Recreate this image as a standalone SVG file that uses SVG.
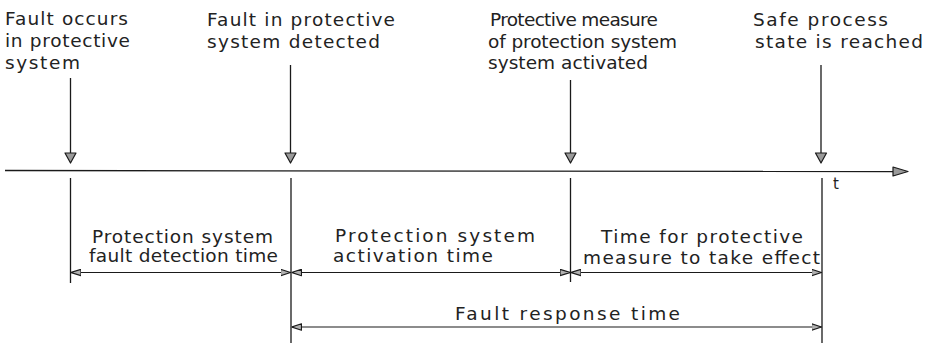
<svg xmlns="http://www.w3.org/2000/svg" width="935" height="343" viewBox="0 0 935 343">
<style>
  text { font-family: "DejaVu Sans", "Liberation Sans", sans-serif; font-size: 18.5px; fill: #222222; }
  .ln { stroke: #1a1a1a; stroke-width: 1.3; fill: none; }
  .tri { fill: #9a9a9a; stroke: #1a1a1a; stroke-width: 1.2; stroke-linejoin: round; }
  .dim { stroke: #1a1a1a; stroke-width: 1.1; fill: none; marker-start: url(#dimArrow); marker-end: url(#dimArrow); }
</style>
<defs>
  <marker id="dimArrow" viewBox="0 0 10 8" refX="10" refY="4" markerWidth="10" markerHeight="8" markerUnits="userSpaceOnUse" orient="auto-start-reverse">
    <path d="M0,0.8 L10,4 L0,7.2 Z" fill="#b0b0b0" stroke="#1a1a1a" stroke-width="1.2" stroke-linejoin="round"/>
  </marker>
</defs>
<rect width="935" height="343" fill="#ffffff"/>

<g id="connectors">
  <!-- time axis -->
  <line class="ln" x1="5" y1="170.5" x2="893" y2="171.5"/>
  <polygon class="tri" points="893,167 908,171.5 893,176"/>
  <!-- event arrows from labels -->
  <line class="ln" x1="70.5" y1="78" x2="70.5" y2="153"/>
  <line class="ln" x1="290.5" y1="65" x2="290.5" y2="153"/>
  <line class="ln" x1="570.5" y1="80" x2="570.5" y2="153"/>
  <line class="ln" x1="821" y1="65" x2="821" y2="153"/>
  <polygon class="tri" points="65,153 76,153 70.5,163"/>
  <polygon class="tri" points="285,153 296,153 290.5,163"/>
  <polygon class="tri" points="565,153 576,153 570.5,163"/>
  <polygon class="tri" points="815.5,153 826.5,153 821,163"/>
  <!-- extension lines below the axis -->
  <line class="ln" x1="70.5" y1="178" x2="70.5" y2="283"/>
  <line class="ln" x1="291" y1="178" x2="291" y2="343"/>
  <line class="ln" x1="570.5" y1="178" x2="570.5" y2="282"/>
  <line class="ln" x1="822" y1="178" x2="822" y2="343"/>
  <!-- dimension lines -->
  <line class="dim" x1="71" y1="272.5" x2="290.5" y2="272.5"/>
  <line class="dim" x1="291.5" y1="272.5" x2="570" y2="272.5"/>
  <line class="dim" x1="571" y1="272.5" x2="821.5" y2="272.5"/>
  <line class="dim" x1="291.5" y1="327" x2="821.5" y2="327"/>
</g>

<g id="event-fault-occurs">
  <text x="5" y="25" textLength="123" lengthAdjust="spacing">Fault occurs</text>
  <text x="5" y="47" textLength="125" lengthAdjust="spacing">in protective</text>
  <text x="5" y="69" textLength="75" lengthAdjust="spacing">system</text>
</g>
<g id="event-fault-detected">
  <text x="207" y="26" textLength="188" lengthAdjust="spacing">Fault in protective</text>
  <text x="207" y="48" textLength="173" lengthAdjust="spacing">system detected</text>
</g>
<g id="event-measure-activated">
  <text x="490" y="26" textLength="168" lengthAdjust="spacing">Protective measure</text>
  <text x="488" y="48" textLength="189" lengthAdjust="spacing">of protection system</text>
  <text x="488" y="69" textLength="160" lengthAdjust="spacing">system activated</text>
</g>
<g id="event-safe-state">
  <text x="753" y="26" textLength="135" lengthAdjust="spacing">Safe process</text>
  <text x="755" y="48" textLength="168" lengthAdjust="spacing">state is reached</text>
</g>
<g id="axis-label">
  <text x="833" y="189" style="font-size:15px">t</text>
</g>

<g id="span-detection-time">
  <text x="92" y="243" textLength="181" lengthAdjust="spacing">Protection system</text>
  <text x="89" y="262" textLength="189" lengthAdjust="spacing">fault detection time</text>
</g>
<g id="span-activation-time">
  <text x="335" y="242" textLength="200" lengthAdjust="spacing">Protection system</text>
  <text x="333" y="262" textLength="160" lengthAdjust="spacing">activation time</text>
</g>
<g id="span-effect-time">
  <text x="601" y="243" textLength="202" lengthAdjust="spacing">Time for protective</text>
  <text x="583" y="264" textLength="237" lengthAdjust="spacing">measure to take effect</text>
</g>
<g id="span-response-time">
  <text x="455" y="320" textLength="225" lengthAdjust="spacing">Fault response time</text>
</g>
</svg>
